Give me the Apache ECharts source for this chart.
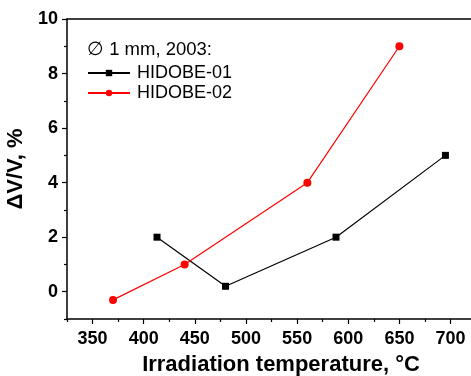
<!DOCTYPE html>
<html>
<head>
<meta charset="utf-8">
<script src="https://cdn.jsdelivr.net/npm/echarts@6/dist/echarts.min.js"></script>
<style>html,body{margin:0;padding:0;background:#fff}#c{width:471px;height:376px}</style>
</head>
<body>
<div id="c"></div>
<script>
const temps01 = [413, 480, 588, 695];
const dv01 = [2.0, 0.2, 2.0, 5.0];
const temps02 = [370, 440, 560, 650];
const dv02 = [-0.3, 1.0, 4.0, 9.0];
const xMajor = [350, 400, 450, 500, 550, 600, 650, 700];
const xMinor = [325, 375, 425, 475, 525, 575, 625, 675];
const yMajor = [0, 2, 4, 6, 8, 10];
const yMinor = [-1, 1, 3, 5, 7, 9];
const names = ['HIDOBE-01', 'HIDOBE-02'];
const legendTitle = '\u2205 1 mm, 2003:';
const xTitle = 'Irradiation temperature, \u00B0C';
const yTitle = '\u0394V/V, %';

const FONT = 'Liberation Sans, Arial, sans-serif';
const chart = echarts.init(document.getElementById('c'), null, {renderer: 'canvas'});
const zip = (a, b) => a.map((v, i) => [v, b[i]]);
const lineStyle = {color: '#000', width: 1.5};
chart.setOption({
  backgroundColor: '#fff',
  animation: false,
  title: {
    text: legendTitle, left: 82, top: 35,
    textStyle: {fontFamily: FONT, fontSize: 18.5, fontWeight: 'normal', color: '#000'}
  },
  legend: {
    orient: 'vertical', left: 82, top: 59, itemGap: 2,
    itemWidth: 42, itemHeight: 8,
    textStyle: {fontFamily: FONT, fontSize: 18, color: '#000', padding: [0, 0, 0, 2]},
    data: names
  },
  grid: {left: 67, right: 0, top: 19, bottom: 57, containLabel: false, outerBoundsMode: 'none'},
  xAxis: [
    {
      type: 'value', position: 'bottom', min: 325, max: 720,
      name: xTitle, nameLocation: 'middle', nameGap: 35,
      nameTextStyle: {fontFamily: FONT, fontSize: 22, fontWeight: 'bold', color: '#000', padding: [0, 0, 0, 24]},
      axisLine: {show: true, onZero: false, lineStyle: lineStyle},
      axisTick: {show: true, length: 5, inside: false, customValues: xMajor, lineStyle: {color: '#000', width: 1.2}},
      axisLabel: {show: true, customValues: xMajor, margin: 11, fontFamily: FONT, fontSize: 18, fontWeight: 'bold', color: '#000'},
      splitLine: {show: false}
    },
    {
      type: 'value', position: 'bottom', min: 325, max: 720,
      axisLine: {show: false, onZero: false},
      axisTick: {show: true, length: 3, customValues: xMinor, lineStyle: {color: '#000', width: 1.2}},
      axisLabel: {show: false},
      splitLine: {show: false}
    },
    {
      type: 'value', position: 'top', min: 325, max: 720,
      axisLine: {show: true, onZero: false, lineStyle: lineStyle},
      axisTick: {show: false}, axisLabel: {show: false}, splitLine: {show: false}
    }
  ],
  yAxis: [
    {
      type: 'value', position: 'left', min: -1, max: 10,
      name: yTitle, nameLocation: 'middle', nameGap: 32,
      nameTextStyle: {fontFamily: FONT, fontSize: 22, fontWeight: 'bold', color: '#000'},
      axisLine: {show: true, onZero: false, lineStyle: lineStyle},
      axisTick: {show: true, length: 5, customValues: yMajor, lineStyle: {color: '#000', width: 1.2}},
      axisLabel: {show: true, customValues: yMajor, margin: 9, fontFamily: FONT, fontSize: 18, fontWeight: 'bold', color: '#000'},
      splitLine: {show: false}
    },
    {
      type: 'value', position: 'left', min: -1, max: 10,
      axisLine: {show: false, onZero: false},
      axisTick: {show: true, length: 3, customValues: yMinor, lineStyle: {color: '#000', width: 1.2}},
      axisLabel: {show: false},
      splitLine: {show: false}
    }
  ],
  series: [
    {
      name: names[0], type: 'line', xAxisIndex: 0, yAxisIndex: 0,
      data: zip(temps01, dv01),
      symbol: 'rect', symbolSize: 7,
      lineStyle: {color: '#000', width: 1.2},
      itemStyle: {color: '#000'}
    },
    {
      name: names[1], type: 'line', xAxisIndex: 0, yAxisIndex: 0,
      data: zip(temps02, dv02),
      symbol: 'circle', symbolSize: 8,
      lineStyle: {color: '#ff0000', width: 1.2},
      itemStyle: {color: '#ff0000'}
    }
  ]
});
</script>
</body>
</html>
